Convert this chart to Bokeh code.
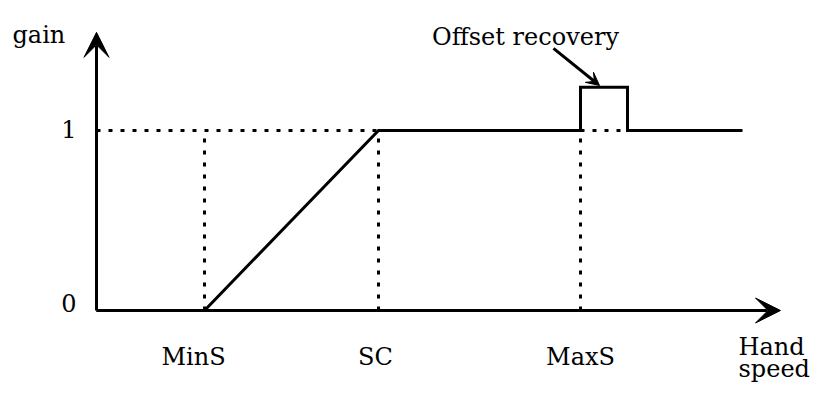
from bokeh.plotting import figure
from bokeh.models import Arrow, VeeHead, Range1d
from bokeh.core.properties import value
from bokeh.embed import file_html
from bokeh.resources import INLINE

# ---- data (hand speed in arbitrary units, gain) ----
min_s = 1.08
sc = 2.82
max_s = 4.84
pulse_end = 5.31
speed_end = 6.46
pulse_gain = 1.24

curve_x = [0.0, min_s, sc, max_s, max_s, pulse_end, pulse_end, speed_end]
curve_y = [0.0, 0.0, 1.0, 1.0, pulse_gain, pulse_gain, 1.0, 1.0]

guide_x = [min_s, sc, max_s]
x_tick_labels = ["MinS", "SC", "MaxS"]
x_label_pos = [0.97, 2.79, 4.84]
y_tick_values = [0.0, 1.0]
y_tick_labels = ["0", "1"]
y_label_pos = [0.04, 1.006]

x_axis_end = 6.84
y_axis_end = 1.545
annot_start = (4.57, 1.456)
annot_end = (5.03, 1.25)

FONT = value("DejaVu Serif")
FS = "24px"

p = figure(width=811, height=382, output_backend="svg", toolbar_location=None,
           x_range=Range1d(-0.96, 7.15), y_range=Range1d(-0.4, 1.722),
           min_border=0)
p.axis.visible = False
p.grid.visible = False
p.outline_line_color = None
p.background_fill_color = "white"

# dotted guides
p.line([0.0, sc], [1.0, 1.0], line_color="black", line_width=3, line_dash="4 8")
p.line([max_s, pulse_end], [1.0, 1.0], line_color="black", line_width=3, line_dash="4 8")
for gx in guide_x:
    p.line([gx, gx], [0.0, 1.0], line_color="black", line_width=3, line_dash="4 8")

# gain curve
p.line(curve_x, curve_y, line_color="black", line_width=3, line_join="miter")

# axes with arrows
p.add_layout(Arrow(end=VeeHead(size=25, fill_color="black", line_color="black"),
                   x_start=0.0, y_start=0.0, x_end=x_axis_end, y_end=0.0,
                   line_width=3, line_color="black"))
p.add_layout(Arrow(end=VeeHead(size=25, fill_color="black", line_color="black"),
                   x_start=0.0, y_start=0.0, x_end=0.0, y_end=y_axis_end,
                   line_width=3, line_color="black"))

# annotation arrow
p.add_layout(Arrow(end=VeeHead(size=13, fill_color="black", line_color="black"),
                   x_start=annot_start[0], y_start=annot_start[1],
                   x_end=annot_end[0], y_end=annot_end[1],
                   line_width=3, line_color="black"))

# texts
p.text(x=x_label_pos, y=[-0.261] * 3, text=x_tick_labels, text_font=FONT,
       text_font_size=FS, text_align="center", text_baseline="alphabetic")
p.text(x=[-0.2] * 2, y=y_label_pos, text=y_tick_labels, text_font=FONT,
       text_font_size=FS, text_align="right", text_baseline="middle")
p.text(x=[-0.84], y=[1.528], text=["gain"], text_font=FONT,
       text_font_size=FS, text_align="left", text_baseline="alphabetic")
p.text(x=[4.29], y=[1.517], text=["Offset recovery"], text_font=FONT,
       text_font_size=FS, text_align="center", text_baseline="alphabetic")
p.text(x=[6.42], y=[-0.205], text=["Hand"], text_font=FONT,
       text_font_size=FS, text_align="left", text_baseline="alphabetic")
p.text(x=[6.42], y=[-0.325], text=["speed"], text_font=FONT,
       text_font_size=FS, text_align="left", text_baseline="alphabetic")

open("out.html", "w").write(file_html(p, INLINE))
